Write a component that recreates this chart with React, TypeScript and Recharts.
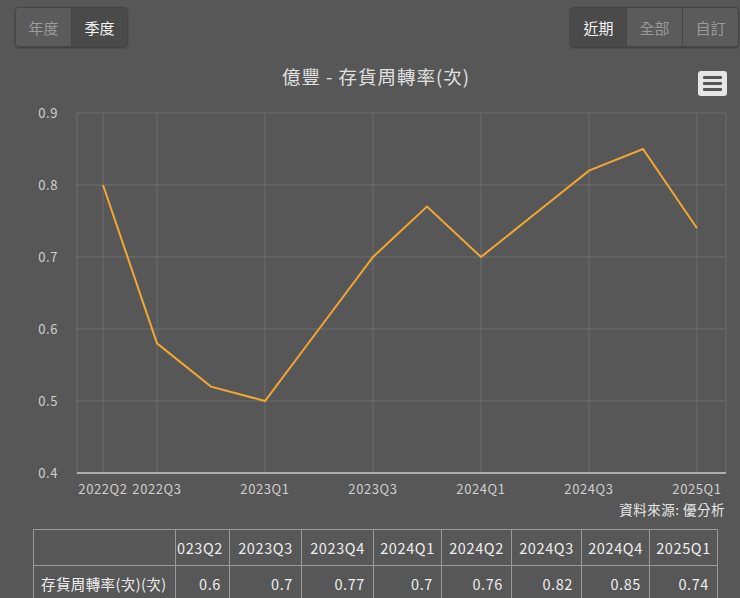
import React from "react";
import { CartesianGrid, Line, LineChart, XAxis, YAxis } from "recharts";

// 億豐 存貨周轉率(次), quarterly
const quarters = [
  "2022Q2", "2022Q3", "2022Q4", "2023Q1", "2023Q2", "2023Q3",
  "2023Q4", "2024Q1", "2024Q2", "2024Q3", "2024Q4", "2025Q1",
];
const turnover = [0.8, 0.58, 0.52, 0.5, 0.6, 0.7, 0.77, 0.7, 0.76, 0.82, 0.85, 0.74];
const xTicks = ["2022Q2", "2022Q3", "2023Q1", "2023Q3", "2024Q1", "2024Q3", "2025Q1"];
const yTicks = [0.4, 0.5, 0.6, 0.7, 0.8, 0.9];
const tableQuarters = quarters.slice(4);
const tableValues = turnover.slice(4);

const FONT = '"Noto Sans CJK TC", "Noto Sans", sans-serif';
const BG = "#575757";

const data = quarters.map((q, i) => ({ q, v: turnover[i] }));

function ButtonGroup({ items, active, left, widths }: { items: string[]; active: number; left: number; widths: number[] }) {
  return (
    <div
      style={{
        position: "absolute",
        left,
        top: 7,
        height: 38,
        display: "flex",
        border: "1px solid #454545",
        borderRadius: 4,
        overflow: "hidden",
        boxShadow: "0 1px 2px rgba(0,0,0,0.3)",
      }}
    >
      {items.map((t, i) => (
        <div
          key={t}
          style={{
            width: widths[i],
            display: "flex",
            alignItems: "center",
            justifyContent: "center",
            fontSize: 15,
            color: i === active ? "#f2f2f2" : "#9a9a9a",
            background: i === active ? "#4a4a4a" : "#5b5b5b",
            borderLeft: i > 0 ? "1px solid #464646" : "none",
          }}
        >
          {t}
        </div>
      ))}
    </div>
  );
}

export default function App() {
  const cell: React.CSSProperties = {
    border: "1px solid #9a9a9a",
    padding: "0 7px",
    height: 35,
    fontSize: 14.5,
    letterSpacing: 0.6,
    color: "#eeeeee",
    whiteSpace: "nowrap",
    overflow: "hidden",
  };
  const firstCol = 142;
  const colWidths = [54, 72, 72, 68, 70, 70, 68, 68];
  const tableWidth = colWidths.reduce((a, b) => a + b, firstCol);
  const tickStyle = { fill: "#cfcfcf", fontSize: 13, fontFamily: FONT, letterSpacing: 0.6 };
  return (
    <div
      style={{
        position: "absolute",
        left: 0,
        top: 0,
        width: 740,
        height: 598,
        background: BG,
        fontFamily: FONT,
        overflow: "hidden",
      }}
    >
      <ButtonGroup items={["年度", "季度"]} active={1} left={15} widths={[55, 55]} />
      <ButtonGroup items={["近期", "全部", "自訂"]} active={0} left={570} widths={[55, 55, 55]} />

      <div
        style={{
          position: "absolute",
          top: 63,
          left: 0,
          width: 752,
          textAlign: "center",
          fontSize: 18.5,
          letterSpacing: 1,
          color: "#e0e0e0",
        }}
      >
        億豐 - 存貨周轉率(次)
      </div>

      {/* menu icon */}
      <div
        style={{
          position: "absolute",
          left: 698,
          top: 71,
          width: 29,
          height: 25,
          background: "#e6e6e6",
          borderRadius: 3,
          display: "flex",
          flexDirection: "column",
          justifyContent: "center",
          alignItems: "center",
          gap: 3,
        }}
      >
        {[0, 1, 2].map((k) => (
          <div key={k} style={{ width: 19, height: 3, background: "#555", borderRadius: 1 }} />
        ))}
      </div>

      <div style={{ position: "absolute", left: 0, top: 0 }}>
        <LineChart width={740} height={510} data={data} margin={{ top: 113, right: 14, bottom: 0, left: 0 }}>
          <CartesianGrid stroke="#6e6e6e" strokeWidth={1} />
          <XAxis
            dataKey="q"
            ticks={xTicks}
            interval={0}
            height={37}
            padding={{ left: 26, right: 29 }}
            tickLine={false}
            tickSize={0}
            tickMargin={12}
            axisLine={{ stroke: "#c9c9c9", strokeWidth: 1.5 }}
            tick={tickStyle}
          />
          <YAxis
            domain={[0.4, 0.9]}
            ticks={yTicks}
            width={77}
            tickLine={false}
            axisLine={false}
            tickSize={0}
            tickMargin={19}
            tickFormatter={(v: number) => v.toFixed(1)}
            tick={tickStyle}
          />
          <Line
            type="linear"
            dataKey="v"
            stroke="#f2a830"
            strokeWidth={2}
            dot={false}
            isAnimationActive={false}
          />
        </LineChart>
      </div>

      <div
        style={{
          position: "absolute",
          right: 15,
          top: 499,
          fontSize: 13.5,
          letterSpacing: 0.5,
          color: "#e6e6e6",
        }}
      >
        資料來源: 優分析
      </div>

      <table
        style={{
          position: "absolute",
          left: 33,
          top: 529,
          width: tableWidth,
          borderCollapse: "collapse",
          tableLayout: "fixed",
          fontFamily: FONT,
        }}
      >
        <colgroup>
          <col style={{ width: firstCol }} />
          {colWidths.map((w, i) => (
            <col key={i} style={{ width: w }} />
          ))}
        </colgroup>
        <tbody>
          <tr>
            <td style={cell}></td>
            {tableQuarters.map((q, i) => (
              <td
                key={q}
                style={{
                  ...cell,
                  textAlign: i === 0 ? "right" : "center",
                  padding: i === 0 ? "0 6px 0 0" : "0 2px",
                  direction: i === 0 ? "rtl" : "ltr",
                  textOverflow: "clip",
                }}
              >
                {q}
              </td>
            ))}
          </tr>
          <tr>
            <td style={{ ...cell, textAlign: "left", fontSize: 14.5, letterSpacing: 0.4 }}>存貨周轉率(次)(次)</td>
            {tableValues.map((v, i) => (
              <td key={i} style={{ ...cell, textAlign: "right", paddingRight: 8 }}>
                {v}
              </td>
            ))}
          </tr>
        </tbody>
      </table>
    </div>
  );
}
